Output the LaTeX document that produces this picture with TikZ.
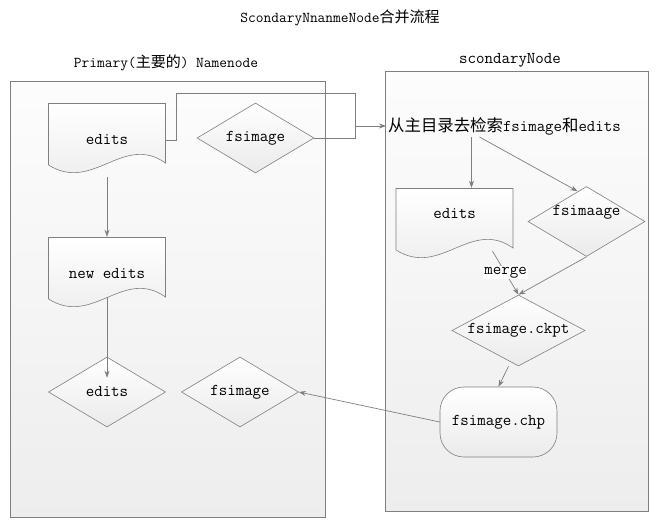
\documentclass[tikz,border=0pt]{standalone}
\usepackage{fontspec}
\newfontfamily\cjk{Noto Sans CJK SC}
\usetikzlibrary{arrows.meta,positioning,shapes.geometric}

\definecolor{linegray}{HTML}{7F7F7F}

\tikzset{
  panel/.style={draw=linegray, line width=0.8pt, top color=black!1, bottom color=black!7},
  conn/.style={draw=linegray, line width=0.7pt},
  diam/.style={diamond, draw=linegray, line width=0.6pt, top color=white, bottom color=black!8,
    aspect=1.67, minimum width=117pt, minimum height=70pt, inner sep=0pt},
  docshape/.style={rectangle, minimum width=118pt, minimum height=74pt, inner sep=0pt,
    path picture={\draw[linegray, line width=0.6pt, top color=white, bottom color=black!8]
      ([xshift=0.5pt,yshift=-0.5pt]path picture bounding box.north west)
      -- ([xshift=-0.5pt,yshift=-0.5pt]path picture bounding box.north east)
      -- ([xshift=-0.5pt,yshift=14pt]path picture bounding box.south east)
      .. controls ([xshift=-43pt,yshift=44pt]path picture bounding box.south east)
      and ([xshift=45pt,yshift=-16pt]path picture bounding box.south west)
      .. ([xshift=0.5pt,yshift=12pt]path picture bounding box.south west) -- cycle;}},
  chpbox/.style={rectangle, rounded corners=24pt, draw=linegray, line width=0.6pt,
    top color=white, bottom color=black!8, minimum width=117pt, minimum height=70pt},
  ttl/.style={font=\ttfamily\fontsize{15}{18}\selectfont},
}

\begin{document}
\begin{tikzpicture}[x=1pt, y=-1pt, >={Stealth[length=7pt,width=5pt]},
  font=\ttfamily\fontsize{16.5}{19}\selectfont]
\useasboundingbox (0,0) rectangle (667,525);

% titles and the two panels
\node[ttl] (title) at (340,18) {ScondaryNnanmeNode{\cjk 合并流程}};
\node[panel, minimum width=315pt, minimum height=436pt] (prim) at (167.5,299) {};
\node[panel, minimum width=263pt, minimum height=440pt] (scnd) at (516.5,291) {};
\node[ttl] (primtl) at (166,63) {Primary({\cjk 主要的}) Namenode};
\node[ttl, font=\ttfamily\fontsize{16.5}{19}\selectfont] (scndtl) at (510,60) {scondaryNode};

% primary namenode
\node[docshape] (eds1) at (107,140) {edits};
\node[diam] (fsim1) at (255.5,138) {fsimage};
\node[docshape, below of=eds1, node distance=134pt] (neweds) {new edits};
\node[diam, below of=neweds, node distance=118pt] (eds2) {edits};
\node[diam, right of=eds2, node distance=133pt] (fsim2) {fsimage};

% secondary namenode
\node[anchor=west, inner sep=2pt, font=\ttfamily\fontsize{16.4}{19}\selectfont] (srch) at (386,126)
  {{\cjk 从主目录去检索}fsimage{\cjk 和}edits};
\node[docshape, label={[yshift=11pt]center:edits}] (eds3) at (454.5,225) {};
\node[diam, label={[yshift=9pt]center:fsimaage}] (fsima) at (586.5,221.5) {};
\node[diam, aspect=1.87, minimum width=133pt, minimum height=71pt] (ckpt) at (518.5,330.5) {fsimage.ckpt};
\node[chpbox] (chp) at (498.5,422) {fsimage.chp};

% connectors
\coordinate (bend) at (355,93);
\coordinate (jn) at (355,126);
\draw[conn] (eds1.east) -- ++(10,0) |- (bend) -- (jn);
\draw[conn] (fsim1.east) -| (jn);
\draw[conn,->] (jn) -- (srch.west);
\draw[conn,->] (eds1.south) -- (neweds.north);
\draw[conn,->] ([yshift=14pt]neweds.south) -- ([yshift=-21pt]eds2.north);
\draw[conn,->] ([xshift=-33pt]srch.south) -- ([xshift=-33pt]srch.south |- eds3.north);
\draw[conn,->] ([xshift=-25pt]srch.south) -- ([xshift=-9pt,yshift=-5pt]fsima.north);
\draw[conn,->] ([xshift=38pt,yshift=11pt]eds3.south) -- node[fill=white, inner sep=1pt] {merge} (ckpt.north);
\draw[conn,->] (fsima.south) -- (ckpt.north);
\draw[conn,->] ([xshift=-10pt]ckpt.south) -- (chp.north);
\draw[conn,->] (chp.west) -- (fsim2.east);
\end{tikzpicture}
\end{document}
